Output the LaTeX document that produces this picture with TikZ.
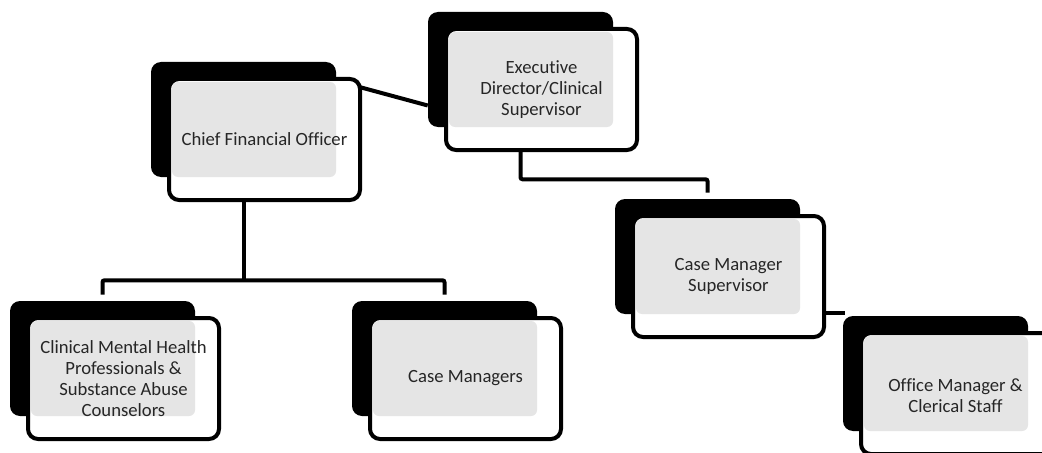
\documentclass[tikz,border=0pt]{standalone}
\usepackage{fontspec}
\setmainfont[Ligatures=NoCommon]{Carlito}
\usetikzlibrary{calc,backgrounds}

\tikzset{
  backbox/.style={fill=black, rounded corners=7.5pt, minimum width=138.75pt, minimum height=86.25pt, inner sep=0pt},
  frontbox/.style={draw=black, fill=white, line width=3pt, rounded corners=7.5pt, minimum width=143.25pt, minimum height=90.75pt, inner sep=0pt},
  shadebox/.style={fill=black!10, rounded corners=4.5pt, minimum width=123pt, minimum height=71.25pt, inner sep=0pt},
  boxtext/.style={align=center, text=black!85, font=\fontsize{14}{15.75}\selectfont, inner sep=0pt},
  link/.style={line width=3pt, draw=black, rounded corners=1.5pt}
}

\begin{document}
\begin{tikzpicture}[x=0.75pt, y=-0.75pt]

  \useasboundingbox (0,0) rectangle (1042,453);
  \clip (0,0) rectangle (1042,453);

  % chief financial officer
  \node[backbox] (cfo-b) at (243.5,119.5) {};
  \node[frontbox] (cfo-f) at ($(cfo-b)+(21,20)$) {};
  \node[shadebox] (cfo-s) at ($(cfo-b)+(10.5,10)$) {};
  \node[boxtext] (cfo) at (cfo-f) {Chief Financial Officer};

  % executive director
  \node[backbox] (exec-b) at (520.5,69.5) {};
  \node[frontbox] (exec-f) at ($(exec-b)+(21,20)$) {};
  \node[shadebox] (exec-s) at ($(exec-b)+(10.5,10)$) {};
  \node[boxtext] (exec) at (exec-f) {Executive\\Director/Clinical\\Supervisor};

  % case manager supervisor
  \node[backbox] (cms-b) at (707.5,256.5) {};
  \node[frontbox] (cms-f) at ($(cms-b)+(21,20)$) {};
  \node[shadebox] (cms-s) at ($(cms-b)+(10.5,10)$) {};
  \node[boxtext] (cms) at (cms-f) {Case Manager\\Supervisor};

  % clinical staff
  \node[backbox] (clin-b) at (102.5,358.5) {};
  \node[frontbox] (clin-f) at ($(clin-b)+(21,20)$) {};
  \node[shadebox] (clin-s) at ($(clin-b)+(10.5,10)$) {};
  \node[boxtext] (clin) at (clin-f) {Clinical Mental Health\\Professionals \&\\Substance Abuse\\Counselors};

  % case managers
  \node[backbox] (cm-b) at (444.5,358.5) {};
  \node[frontbox] (cm-f) at ($(cm-b)+(21,20)$) {};
  \node[shadebox] (cm-s) at ($(cm-b)+(10.5,10)$) {};
  \node[boxtext] (cm) at (cm-f) {Case Managers};

  % office manager (runs off the page)
  \node[backbox] (om-b) at (935.5,373.5) {};
  \node[frontbox, minimum width=151.5pt] (om-f) at ($(om-b)+(26.5,20)$) {};
  \node[shadebox] (om-s) at ($(om-b)+(10.5,10)$) {};
  \node[boxtext] (om) at ($(om-b)+(20,22)$) {Office Manager \&\\Clerical Staff};

  \begin{pgfonlayer}{background}
    \draw[link] ($(cfo-f.north east)+(-10,8)$) -- ($(exec-b.west)+(0,36)$);
    \draw[link] (exec-b.south) -- ++(0,52) -| ($(cms-b.north)+(0,-6)$);
    \coordinate (fork) at ($(cfo-b.south)+(0,103)$);
    \draw[link] (cfo-b.south) -- (fork);
    \draw[link] ($(clin-b.north)+(0,-6)$) |- (fork) -| ($(cm-b.north)+(0,-6)$);
    \draw[link] ($(cms-f.east)+(-2,36)$) -- ($(om-b.west |- cms-f.east)+(2,36)$);
  \end{pgfonlayer}

\end{tikzpicture}
\end{document}
